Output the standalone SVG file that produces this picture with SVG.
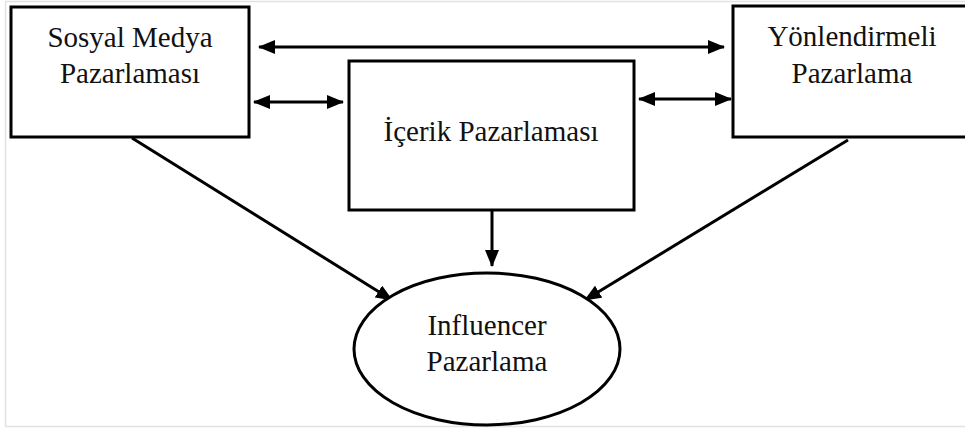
<svg xmlns="http://www.w3.org/2000/svg" width="965" height="428" viewBox="0 0 965 428">
  <style>
    .box { fill: #fff; stroke: #000; stroke-width: 3; }
    .lbl { font-family: "Liberation Serif", "DejaVu Serif", serif; font-size: 29px; fill: #111; text-anchor: middle; }
    .con { stroke: #000; stroke-width: 3; fill: none; }
    .frame { stroke: #e2e2e2; stroke-width: 1.5; fill: none; }
  </style>
  <defs>
    <marker id="ah" markerUnits="userSpaceOnUse" markerWidth="18" markerHeight="14" refX="16" refY="7" orient="auto-start-reverse">
      <path d="M0,0 L17,7 L0,14 Z" fill="#000"/>
    </marker>
  </defs>
  <rect width="965" height="428" fill="#fff"/>
  <path class="frame" d="M965,1.5 L5.5,1.5 L5.5,426.5 L965,426.5"/>

  <g id="connectors">
    <line class="con" x1="259" y1="47" x2="724" y2="47" marker-start="url(#ah)" marker-end="url(#ah)"/>
    <line class="con" x1="254" y1="102" x2="343" y2="102" marker-start="url(#ah)" marker-end="url(#ah)"/>
    <line class="con" x1="639" y1="99" x2="731" y2="99" marker-start="url(#ah)" marker-end="url(#ah)"/>
    <line class="con" x1="492" y1="210" x2="492" y2="266" marker-end="url(#ah)"/>
    <line class="con" x1="132" y1="138" x2="392" y2="300" marker-end="url(#ah)"/>
    <line class="con" x1="848" y1="140" x2="585" y2="300" marker-end="url(#ah)"/>
  </g>

  <g id="sosyal-medya">
    <rect class="box" x="11" y="7" width="238" height="130"/>
    <text class="lbl" x="130" y="47">Sosyal Medya</text>
    <text class="lbl" x="130" y="83">Pazarlaması</text>
  </g>
  <g id="icerik">
    <rect class="box" x="349" y="61" width="285" height="149"/>
    <text class="lbl" x="491" y="141">İçerik Pazarlaması</text>
  </g>
  <g id="yonlendirmeli">
    <rect class="box" x="733" y="6" width="240" height="131"/>
    <text class="lbl" x="852" y="46">Yönlendirmeli</text>
    <text class="lbl" x="852" y="83">Pazarlama</text>
  </g>
  <g id="influencer">
    <ellipse class="box" cx="487" cy="349" rx="133" ry="76"/>
    <text class="lbl" x="487" y="335">Influencer</text>
    <text class="lbl" x="487" y="371">Pazarlama</text>
  </g>
</svg>
